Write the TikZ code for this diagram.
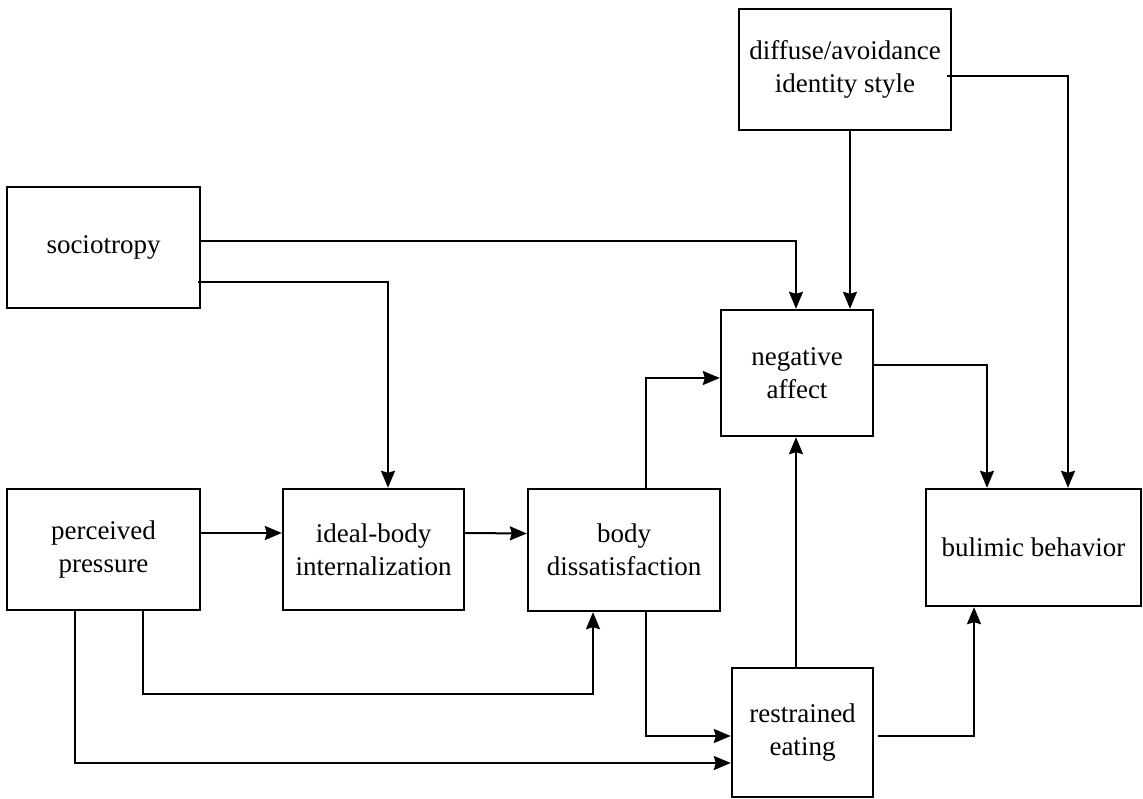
\documentclass[tikz,border=0pt]{standalone}
\usepackage{fontspec}
\setmainfont{Liberation Serif}
\usepackage{tikz}
\usetikzlibrary{calc}
\usetikzlibrary{arrows.meta}
\usetikzlibrary{shapes}
\usetikzlibrary{positioning}

\tikzset{
  factor/.style={rectangle, draw=black, line width=2.4pt, inner sep=0pt, align=center,
    font=\fontsize{27}{33}\selectfont},
  path/.style={-{Stealth[length=17pt,width=14pt,inset=2pt]}, line width=2pt, draw=black}
}

\begin{document}
\begin{tikzpicture}[x=1pt, y=-1pt]
\useasboundingbox (0,0) rectangle (1143,799);
\node [factor, minimum width=212pt, minimum height=121pt] (D) at (845, 69.5) {diffuse/avoidance\\identity style};
\node [factor, minimum width=193pt, minimum height=121pt] (S) at (103.5, 247.5) {sociotropy};
\node [factor, minimum width=152pt, minimum height=126pt] (N) at (797, 373) {negative\\affect};
\node [factor, minimum width=193pt, minimum height=121pt] (P) at (103.5, 549.5) {perceived\\pressure};
\node [factor, minimum width=181pt, minimum height=121pt] (I) at (373.5, 549.5) {ideal-body\\internalization};
\node [factor, minimum width=192pt, minimum height=122pt] (B) at (624, 550) {body\\dissatisfaction};
\node [factor, minimum width=215pt, minimum height=117pt] (U) at (1033.5, 547.5) {bulimic behavior};
\node [factor, minimum width=141pt, minimum height=129pt] (R) at (802.5, 732.5) {restrained\\eating};

% sociotropy
\draw [path] ([yshift=6.5pt]S.east) -| ([xshift=-1pt]N.north);
\draw [path] ([yshift=-34.5pt, xshift=-3pt]S.east) -| ([xshift=14.5pt]I.north);
% identity style
\draw [path] ([xshift=5pt]D.south) -- ([xshift=53pt]N.north);
\draw [path] ([yshift=-6.5pt, xshift=-5pt]D.east) -| ([xshift=34.5pt]U.north);
% main chain
\draw [path] ([yshift=16.5pt]P.east) -- ([yshift=16.5pt]I.west);
\draw [path] ([yshift=16.5pt]I.east) -- ([yshift=16.5pt]B.west);
\draw [path] ([xshift=22pt]B.north) |- ([yshift=-5pt]N.west);
\draw [path] ([yshift=8pt]N.east) -| ([xshift=-46.5pt]U.north);
% lower paths
\draw [path] ([xshift=39.5pt]P.south) -- ++(0,83) -| ([xshift=-31pt]B.south);
\draw [path] ([xshift=-28.5pt]P.south) |- ([yshift=-30.5pt]R.west);
\draw [path] ([xshift=22pt]B.south) |- ([yshift=-3.5pt]R.west);
\draw [path] ([xshift=-6.5pt]R.north) -- ([xshift=-1pt]N.south);
\draw [path] ([yshift=-3.5pt, xshift=4pt]R.east) -| ([xshift=-59.5pt]U.south);
\end{tikzpicture}
\end{document}
